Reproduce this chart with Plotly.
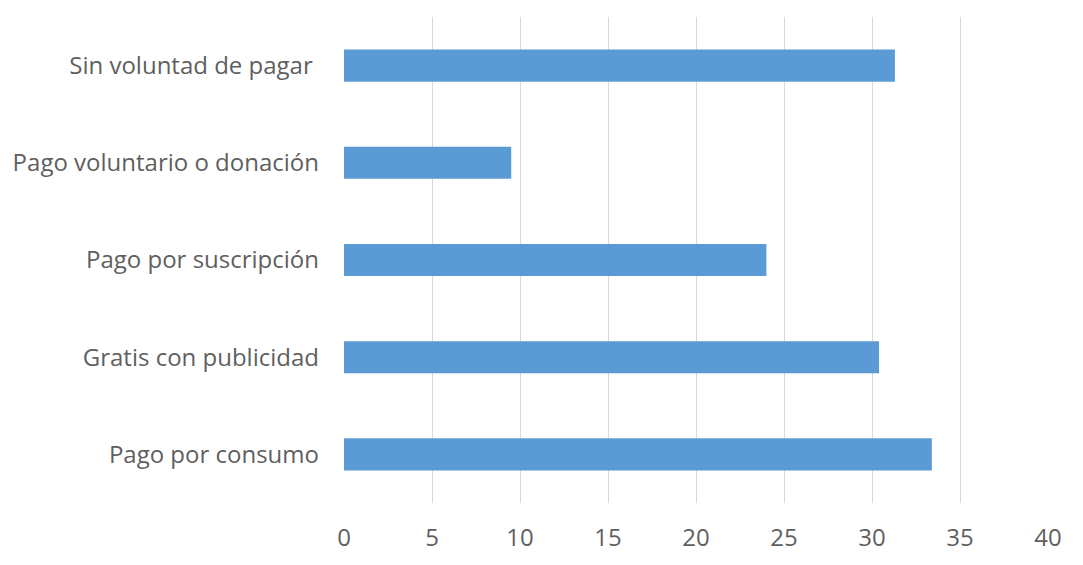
import plotly.graph_objects as go

categories = [
    "Pago por consumo",
    "Gratis con publicidad",
    "Pago por suscripción",
    "Pago voluntario o donación",
    "Sin voluntad de pagar ",
]
values = [33.4, 30.4, 24.0, 9.5, 31.3]
x_ticks = [0, 5, 10, 15, 20, 25, 30, 35, 40]

text_color = "#5f5f5f"
font_family = "Open Sans, Liberation Sans, sans-serif"

fig = go.Figure(
    go.Bar(
        y=categories,
        x=values,
        orientation="h",
        marker=dict(color="#5B9BD5", line=dict(width=0)),
    )
)

fig.update_layout(
    width=1083,
    height=565,
    margin=dict(l=344, r=35, t=17, b=60),
    paper_bgcolor="white",
    plot_bgcolor="white",
    bargap=0.67,
    showlegend=False,
    font=dict(family=font_family, size=24, color=text_color),
)

fig.update_xaxes(
    range=[0, 40],
    tickvals=x_ticks,
    ticktext=[str(t) for t in x_ticks],
    showgrid=True,
    gridcolor="#D9D9D9",
    gridwidth=1,
    zeroline=False,
    showline=False,
    ticks="",
    ticklabelstandoff=18,
    tickfont=dict(family=font_family, size=24, color=text_color),
)

fig.update_yaxes(
    categoryorder="array",
    categoryarray=categories,
    showgrid=False,
    zeroline=False,
    showline=False,
    ticks="",
    ticklabelstandoff=24,
    tickfont=dict(family=font_family, size=24, color=text_color),
)

fig.write_html("out.html")
